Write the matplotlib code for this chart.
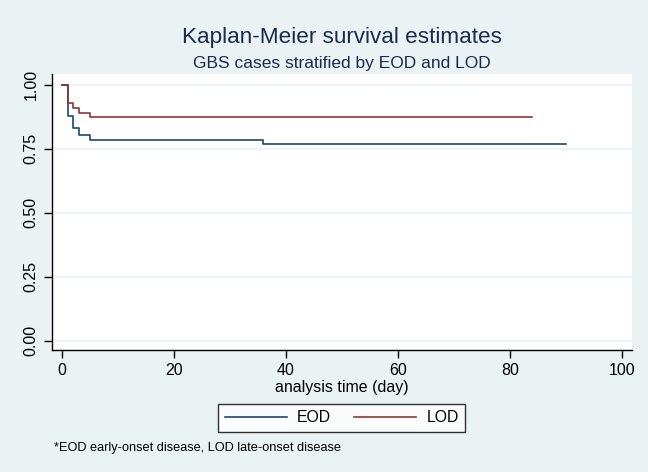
import numpy as np
import matplotlib.pyplot as plt

# Kaplan-Meier step estimates (time in days, survivor function)
eod_time = [0, 1, 2, 3, 5, 36, 90]
eod_surv = [1.0, 0.878, 0.829, 0.805, 0.784, 0.768, 0.768]
lod_time = [0, 1, 2, 3, 5, 84]
lod_surv = [1.0, 0.928, 0.909, 0.891, 0.873, 0.873]

x_ticks = [0, 20, 40, 60, 80, 100]
y_ticks = [0.0, 0.25, 0.5, 0.75, 1.0]
series_names = ['EOD', 'LOD']

bg = '#eaf2f3'
navy = '#1a476f'
maroon = '#90353b'
txt = '#1c2a4c'

plt.rcParams['font.family'] = ['Liberation Sans', 'DejaVu Sans']

fig = plt.figure(figsize=(6.48, 4.72), dpi=100, facecolor=bg)
ax = fig.add_axes([51.7 / 648, 1 - 350 / 472, 580 / 648, 276 / 472])
ax.set_facecolor('white')

ax.step(eod_time, eod_surv, where='post', color=navy, lw=1.2, label=series_names[0])
ax.step(lod_time, lod_surv, where='post', color=maroon, lw=1.2, label=series_names[1])

ax.set_xlim(-1.85, 101.8)
ax.set_ylim(-0.037, 1.042)
ax.set_xticks(x_ticks)
ax.set_yticks(y_ticks)
ax.set_yticklabels([f'{v:.2f}' for v in y_ticks], rotation=90, va='center')
ax.grid(axis='y', color=bg, lw=1.2)
ax.set_axisbelow(True)

for side in ['top', 'right']:
    ax.spines[side].set_visible(False)
for side in ['left', 'bottom']:
    ax.spines[side].set_linewidth(1.0)
ax.tick_params(length=5.5, width=1.0, labelsize=11.5, colors='black', pad=4)
ax.set_xlabel('analysis time (day)', fontsize=11.5, labelpad=1)

fig.text(341.7 / 648, 1 - 42.7 / 472, 'Kaplan-Meier survival estimates',
         ha='center', va='baseline', fontsize=16.2, color=txt)
fig.text(341.7 / 648, 1 - 68.3 / 472, 'GBS cases stratified by EOD and LOD',
         ha='center', va='baseline', fontsize=12.5, color=txt)

leg = fig.legend(loc='center', bbox_to_anchor=(341.7 / 648, 1 - 418 / 472), ncol=2,
                 fontsize=11.3, frameon=True, fancybox=False, edgecolor='black',
                 handlelength=3.95, columnspacing=1.5, borderpad=0.42,
                 handletextpad=0.64, borderaxespad=0)
leg.get_frame().set_linewidth(1.0)

fig.text(54 / 648, 1 - 451 / 472, '*EOD early-onset disease, LOD late-onset disease',
         ha='left', va='baseline', fontsize=9.2, color='black')

fig.savefig('out.png', dpi=100, facecolor=bg)
